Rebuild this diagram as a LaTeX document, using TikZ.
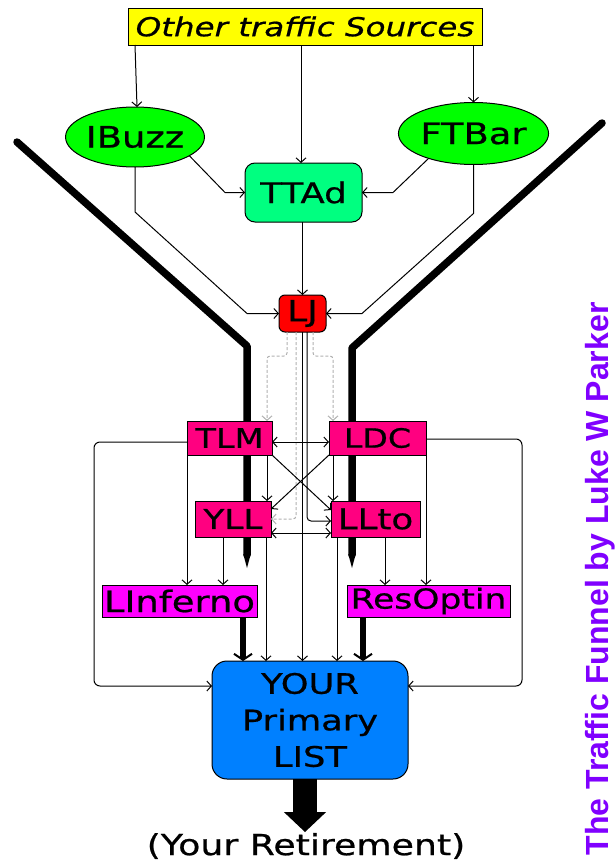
\documentclass[tikz,border=0pt]{standalone}
\usepackage{fontspec}
\usetikzlibrary{arrows.meta,calc,shapes.geometric}
\newfontfamily\vf[FakeStretch=1.25,FakeBold=0.7,ItalicFont={DejaVu Sans Oblique}]{DejaVu Sans}
\newfontfamily\lsans{Liberation Sans}
\newcommand\lblf[1]{\vf\fontsize{#1}{#1}\selectfont}
\definecolor{cyel}{HTML}{FFFF00}
\definecolor{cgrn}{HTML}{00FF00}
\definecolor{cspr}{HTML}{00FF80}
\definecolor{cred}{HTML}{FF0000}
\definecolor{cpnk}{HTML}{FF0080}
\definecolor{cmag}{HTML}{FF00FF}
\definecolor{cblu}{HTML}{0080FF}
\definecolor{cpur}{HTML}{8000FF}
\definecolor{cgry}{HTML}{B0B0B0}
\begin{document}
\begin{tikzpicture}[x=1pt,y=-1pt,
  every node/.style={inner sep=0pt, outer sep=0pt},
  box/.style={draw=black, line width=1pt},
  arr/.style={draw=black, line width=1pt, -{Straight Barb[length=4.5pt,width=10pt]}},
  darr/.style={draw=black, line width=1pt, {Straight Barb[length=4.5pt,width=10pt]}-{Straight Barb[length=4.5pt,width=10pt]}},
  garr/.style={draw=cgry, line width=1pt, dash pattern=on 3pt off 2pt, rounded corners=3pt, -{Straight Barb[length=4.5pt,width=10pt]}},
  loop/.style={arr, rounded corners=6pt},
  tharr/.style={line width=6pt, -{Straight Barb[length=6pt,width=18pt,line width=2pt]}},
  funnel/.style={line width=7.5pt, line cap=round, line join=round}]
\useasboundingbox (0,0) rectangle (614,862);
% funnel walls
\draw[funnel] (17,142) -- (247,346) -- (247,555);
\fill (243.25,554) -- (250.75,554) -- (247,568) -- cycle;
\draw[funnel] (602,123) -- (352,348) -- (352,555);
\fill (348.25,554) -- (355.75,554) -- (352,568) -- cycle;
% nodes
\node[box, fill=cyel, minimum width=354pt, minimum height=37pt, font=\lblf{26}\itshape] (src) at (305,26.5) {Other traffic Sources};
\node[box, ellipse, fill=cgrn, minimum width=124pt, minimum height=60pt, font=\lblf{29.5}] (ib) at (135,137) {IBuzz};
\node[box, ellipse, fill=cgrn, minimum width=137pt, minimum height=62pt, font=\lblf{29.5}] (ft) at (473.5,133.5) {FTBar};
\node[box, rounded corners=10pt, fill=cspr, minimum width=117pt, minimum height=59pt, font=\lblf{28.5}] (tt) at (303.5,192.5) {TTAd};
\node[box, rounded corners=6pt, fill=cred, minimum width=47pt, minimum height=37pt, font=\lblf{29}] (lj) at (302.5,313.5) {LJ};
\node[box, fill=cpnk, minimum width=85pt, minimum height=34pt, font=\lblf{26.8}] (tlm) at (229.5,438) {TLM};
\node[box, fill=cpnk, minimum width=97pt, minimum height=34pt, font=\lblf{26.5}] (ldc) at (377.5,438) {LDC};
\node[box, fill=cpnk, minimum width=76pt, minimum height=36pt, font=\lblf{27.4}] (yll) at (233,519) {YLL};
\node[box, fill=cpnk, minimum width=89pt, minimum height=36pt, font=\lblf{28.5}] (llt) at (375.5,519) {LLto};
\node[box, fill=cmag, minimum width=155pt, minimum height=32pt, font=\lblf{29.5}] (linf) at (179.5,601) {LInferno};
\node[box, fill=cmag, minimum width=163pt, minimum height=32pt, font=\lblf{27.6}] (res) at (428.5,601) {ResOptin};
\node[box, rounded corners=15pt, fill=cblu, minimum width=196pt, minimum height=118pt, align=center, font=\vf\fontsize{28.2}{36.5}\selectfont] (ypl) at (310,720) {YOUR\\Primary\\LIST};
\node[font=\lblf{29}] (ret) at (306,846) {(Your Retirement)};
\node[rotate=90, anchor=base, text=cpur, font=\lsans\bfseries\fontsize{32}{32}\selectfont] (side) at (608,579) {The Traffic Funnel by Luke W Parker};
% top connectors
\draw[arr] (ib.north |- src.south) -- ([xshift=2pt]ib.north);
\draw[arr] ([xshift=-2.5pt]tt.north |- src.south) -- ([xshift=-2.5pt]tt.north);
\draw[arr] (ft.north |- src.south) -- (ft.north);
\draw[arr] (ib.-19) -- ([xshift=-20pt]tt.west) -- (tt.west);
\draw[arr] (ft.-151) -- ([xshift=31pt]tt.east) -- (tt.east);
\draw[arr] (ib.south) -- ++(0,45) -- ([xshift=-32pt]lj.west) -- (lj.west);
\draw[arr] (ft.south) -- ++(0,49) -- ([xshift=36pt]lj.east) -- (lj.east);
\draw[arr] (tt.south -| lj.north) -- (lj.north);
% from LJ
\draw[garr] ([xshift=-15.5pt]lj.south) -- ++(0,24) -- ++(-20,0) -- ([xshift=-5pt]tlm.north east);
\draw[garr] ([xshift=10.5pt]lj.south) -- ++(0,24) -- ++(20,0) -- ([xshift=4pt]ldc.north west);
\draw[garr] ([xshift=-6.5pt]lj.south) |- (yll.east);
\draw[arr] (lj.south) -- (lj.south |- ypl.north);
\draw[arr, rounded corners=4pt] ([xshift=4.5pt]lj.south) |- ([yshift=-2pt]llt.west);
% middle
\draw[darr] ([yshift=-4pt]tlm.east) -- ([yshift=-4pt]ldc.west);
\draw[darr] ([yshift=-14pt]yll.east) -- ([yshift=-14pt]llt.west);
\draw[arr] (tlm.south east) -- ([yshift=-9pt]llt.north west);
\draw[arr] (ldc.south west) -- ([yshift=-8pt]yll.north east);
\draw[arr] ([xshift=-5pt]tlm.south east) -- ([xshift=-5pt]tlm.south east |- yll.north);
\draw[arr] ([xshift=4pt]ldc.south west) -- ([xshift=4pt]ldc.south west |- llt.north);
\draw[arr] (tlm.south west) -- (tlm.south west |- linf.north);
\draw[arr] ([xshift=-10pt]yll.south) -- ([xshift=-10pt]yll.south |- linf.north);
\draw[arr] ([xshift=-5pt]yll.south east) -- ([xshift=-5pt]yll.south east |- ypl.north);
\draw[arr] (ldc.south east) -- (ldc.south east |- res.north);
\draw[arr] ([xshift=9.5pt]llt.south) -- ([xshift=9.5pt]llt.south |- res.north);
\draw[arr] ([xshift=6pt]llt.south west) -- ([xshift=6pt]llt.south west |- ypl.north);
\draw[tharr] ([xshift=63.5pt]linf.south) -- ([xshift=63.5pt]linf.south |- ypl.north);
\draw[tharr] ([xshift=-65.5pt]res.south) -- ([xshift=-65.5pt]res.south |- ypl.north);
% side loops
\draw[loop] ([yshift=-4pt]tlm.west) -- ++(-93,0) |- ([yshift=34pt]ypl.west);
\draw[loop] ([yshift=-1pt]ldc.east) -- ++(96,0) |- ([yshift=34pt]ypl.east);
% output
\draw[line width=24pt, -{Triangle[length=20pt,width=41pt]}] ([xshift=-5pt]ypl.south) -- ([xshift=-1pt,yshift=1pt]ret.north);
\end{tikzpicture}
\end{document}
